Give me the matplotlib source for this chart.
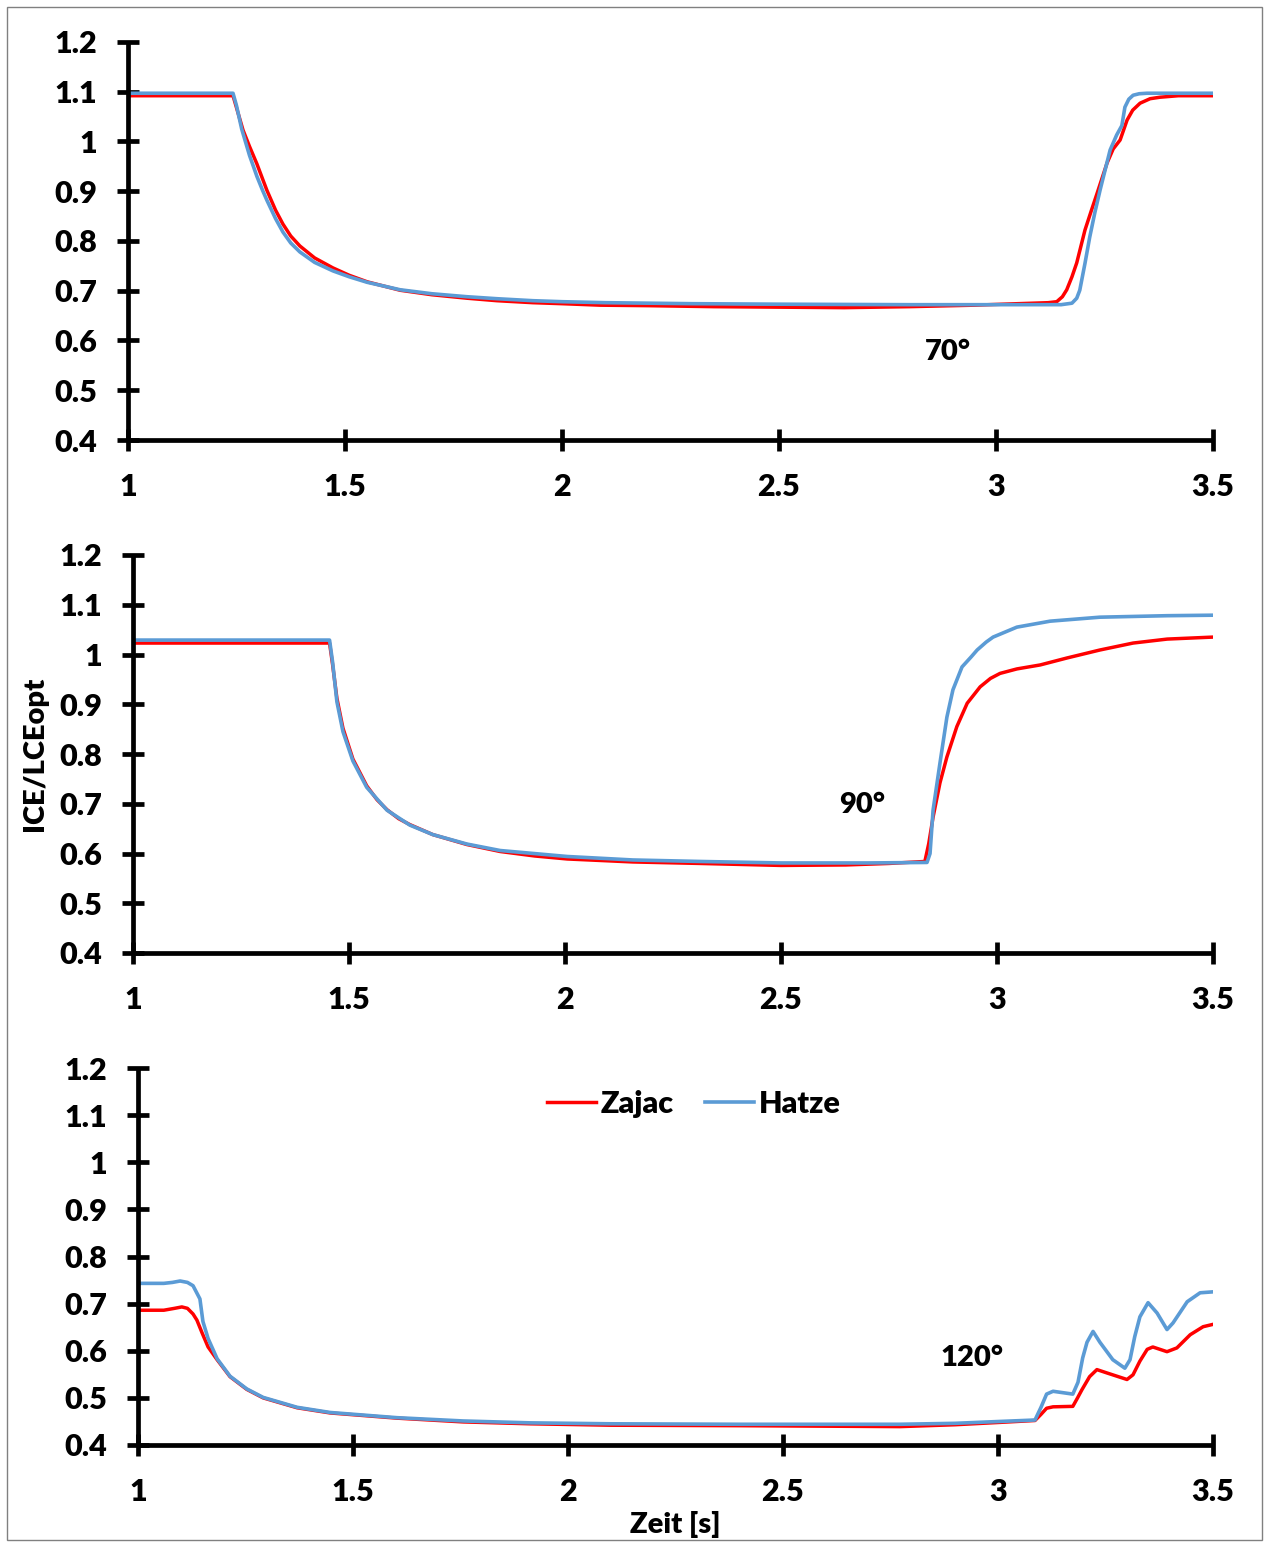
import matplotlib
matplotlib.use("Agg")
import matplotlib.pyplot as plt
from matplotlib.patches import Rectangle

plt.rcParams['font.family'] = ['Lato', 'DejaVu Sans']

# ---- data: muscle fibre length ICE/LCEopt over time for three joint angles ----
# 70 degrees
t70_zajac = [1.0, 1.242, 1.252, 1.265, 1.28, 1.297, 1.31, 1.32, 1.34, 1.357, 1.375, 1.396,
             1.43, 1.472, 1.51, 1.551, 1.627, 1.7, 1.781, 1.85, 1.933, 2.0, 2.088, 2.2, 2.35,
             2.5, 2.65, 2.8, 2.95, 3.05, 3.12, 3.14, 3.153, 3.163, 3.175, 3.186, 3.205, 3.22,
             3.233, 3.256, 3.27, 3.286, 3.302, 3.315, 3.332, 3.355, 3.378, 3.42, 3.5]
zajac70 = [1.092, 1.092, 1.062, 1.023, 0.99, 0.955, 0.925, 0.902, 0.862, 0.834, 0.810, 0.790,
           0.766, 0.746, 0.731, 0.718, 0.701, 0.692, 0.685, 0.680, 0.676, 0.674, 0.671, 0.670,
           0.668, 0.667, 0.666, 0.668, 0.671, 0.674, 0.676, 0.678, 0.688, 0.702, 0.728, 0.756,
           0.822, 0.862, 0.896, 0.957, 0.985, 1.003, 1.043, 1.063, 1.077, 1.086, 1.089, 1.092,
           1.092]
t70_hatze = [1.0, 1.242, 1.25, 1.262, 1.28, 1.297, 1.31, 1.32, 1.34, 1.357, 1.375, 1.396, 1.43,
             1.472, 1.51, 1.551, 1.627, 1.7, 1.781, 1.85, 1.933, 2.0, 2.1, 2.3, 2.5, 2.8,
             3.0, 3.15, 3.175, 3.186, 3.193, 3.205, 3.216, 3.228, 3.24, 3.263, 3.278, 3.29,
             3.297, 3.306, 3.316, 3.33, 3.348, 3.5]
hatze70 = [1.097, 1.097, 1.072, 1.025, 0.972, 0.93, 0.902, 0.882, 0.845, 0.818, 0.796, 0.778,
           0.757, 0.740, 0.728, 0.717, 0.702, 0.694, 0.688, 0.684, 0.680, 0.678, 0.676, 0.674,
           0.673, 0.672, 0.672, 0.672, 0.675, 0.685, 0.701, 0.755, 0.808, 0.858, 0.903, 0.983,
           1.013, 1.032, 1.069, 1.085, 1.093, 1.096, 1.097, 1.097]

# 90 degrees
t90_zajac = [1.0, 1.455, 1.462, 1.472, 1.486, 1.509, 1.541, 1.565, 1.588, 1.615, 1.641, 1.694,
             1.773, 1.85, 1.93, 2.005, 2.157, 2.313, 2.5, 2.65, 2.75, 2.833, 2.842, 2.852,
             2.868, 2.884, 2.907, 2.931, 2.961, 2.985, 3.007, 3.046, 3.1, 3.162, 3.238, 3.315,
             3.394, 3.5]
zajac90 = [1.023, 1.023, 0.98, 0.912, 0.852, 0.790, 0.736, 0.708, 0.688, 0.670, 0.658, 0.638,
           0.618, 0.604, 0.595, 0.589, 0.583, 0.580, 0.576, 0.577, 0.580, 0.584, 0.620, 0.673,
           0.742, 0.794, 0.855, 0.902, 0.935, 0.952, 0.962, 0.971, 0.979, 0.993, 1.009, 1.023,
           1.031, 1.035]
t90_hatze = [1.0, 1.455, 1.462, 1.472, 1.486, 1.509, 1.541, 1.588, 1.641, 1.694, 1.773, 1.85,
             2.005, 2.157, 2.313, 2.5, 2.7, 2.838, 2.845, 2.852, 2.868, 2.884, 2.898, 2.919,
             2.94, 2.954, 2.975, 2.991, 3.046, 3.123, 3.238, 3.394, 3.5]
hatze90 = [1.029, 1.029, 0.985, 0.905, 0.845, 0.786, 0.733, 0.687, 0.657, 0.638, 0.619, 0.606,
           0.594, 0.587, 0.584, 0.581, 0.581, 0.582, 0.60, 0.687, 0.782, 0.874, 0.929, 0.975,
           0.995, 1.009, 1.025, 1.035, 1.055, 1.067, 1.075, 1.078, 1.079]

# 120 degrees
t120_zajac = [1.0, 1.06, 1.085, 1.102, 1.115, 1.128, 1.137, 1.149, 1.163, 1.184, 1.214, 1.253,
              1.291, 1.37, 1.447, 1.602, 1.756, 1.912, 2.1, 2.4, 2.772, 2.9, 3.005, 3.086, 3.1,
              3.113, 3.128, 3.174, 3.185, 3.195, 3.213, 3.23, 3.253, 3.3, 3.314, 3.33, 3.347,
              3.36, 3.393, 3.416, 3.447, 3.477, 3.5]
zajac120 = [0.686, 0.686, 0.690, 0.693, 0.690, 0.678, 0.665, 0.638, 0.608, 0.581, 0.545, 0.518,
            0.500, 0.479, 0.468, 0.457, 0.449, 0.445, 0.442, 0.441, 0.439, 0.443, 0.448, 0.452,
            0.465, 0.478, 0.481, 0.482, 0.500, 0.517, 0.545, 0.560, 0.553, 0.539, 0.549, 0.578,
            0.603, 0.608, 0.598, 0.606, 0.634, 0.651, 0.656]
t120_hatze = [1.0, 1.06, 1.08, 1.098, 1.115, 1.128, 1.144, 1.151, 1.163, 1.184, 1.214, 1.253,
              1.291, 1.37, 1.447, 1.602, 1.756, 1.912, 2.1, 2.4, 2.772, 2.9, 3.005, 3.086, 3.1,
              3.113, 3.128, 3.174, 3.186, 3.197, 3.207, 3.221, 3.237, 3.267, 3.295, 3.307,
              3.318, 3.33, 3.349, 3.37, 3.393, 3.407, 3.44, 3.47, 3.5]
hatze120 = [0.743, 0.743, 0.745, 0.748, 0.745, 0.738, 0.710, 0.662, 0.626, 0.583, 0.546, 0.519,
            0.501, 0.480, 0.469, 0.458, 0.451, 0.447, 0.445, 0.444, 0.444, 0.446, 0.450, 0.453,
            0.48, 0.508, 0.514, 0.508, 0.533, 0.585, 0.618, 0.641, 0.618, 0.581, 0.563, 0.581,
            0.630, 0.672, 0.702, 0.680, 0.645, 0.659, 0.704, 0.723, 0.725]

x_ticks = [1, 1.5, 2, 2.5, 3, 3.5]
x_tick_labels = ["1", "1.5", "2", "2.5", "3", "3.5"]
y_ticks = [0.4, 0.5, 0.6, 0.7, 0.8, 0.9, 1.0, 1.1, 1.2]
y_tick_labels = ["0.4", "0.5", "0.6", "0.7", "0.8", "0.9", "1", "1.1", "1.2"]

series_names = ["Zajac", "Hatze"]
angle_labels = ["70°", "90°", "120°"]
label_pos = [(2.889, 0.577), (2.6875, 0.6975), (2.94, 0.585)]

RED = "#FF0000"
BLUE = "#5B9BD5"
FS_TICK = 22
FS = 21
WEIGHT = "heavy"

W, H = 1265, 1542
fig = plt.figure(figsize=(W / 100, H / 100), dpi=100)

# figure frame
fig.patches.append(Rectangle((7 / W, 2 / H), 1255 / W, 1533 / H, transform=fig.transFigure,
                             fill=False, edgecolor="#808080", linewidth=1.0))

axes_boxes = [
    (128, 1213, 42, 440),
    (133, 1213, 555, 953),
    (138, 1213, 1068, 1445),
]
panels = [
    (t70_zajac, zajac70, t70_hatze, hatze70),
    (t90_zajac, zajac90, t90_hatze, hatze90),
    (t120_zajac, zajac120, t120_hatze, hatze120),
]

axes = []
for (l, r, top, bot), (tz, z, th, h), lab, pos in zip(axes_boxes, panels, angle_labels, label_pos):
    ax = fig.add_axes([l / W, 1 - bot / H, (r - l) / W, (bot - top) / H])
    ax.plot(tz, z, color=RED, lw=2.5, label=series_names[0], solid_joinstyle="round")
    ax.plot(th, h, color=BLUE, lw=2.6, label=series_names[1], solid_joinstyle="round")
    ax.set_xlim(1, 3.5)
    ax.set_ylim(0.4, 1.2)
    ax.set_xticks(x_ticks)
    ax.set_xticklabels(x_tick_labels)
    ax.set_yticks(y_ticks)
    ax.set_yticklabels(y_tick_labels)
    for s in ("top", "right"):
        ax.spines[s].set_visible(False)
    for s in ("left", "bottom"):
        ax.spines[s].set_linewidth(3.4)
        ax.spines[s].set_capstyle("butt")
    ax.tick_params(axis="both", direction="inout", length=15.6, width=3.4,
                   labelsize=FS_TICK, colors="black")
    ax.tick_params(axis="y", pad=14.5)
    ax.tick_params(axis="x", pad=16)
    for tl in ax.get_xticklabels() + ax.get_yticklabels():
        tl.set_fontweight(WEIGHT)
    ax.text(pos[0], pos[1], lab, ha="center", va="center", fontsize=FS, fontweight=WEIGHT)
    axes.append(ax)

leg = axes[2].legend(loc="center", bbox_to_anchor=(0.517, 0.905), ncol=2, frameon=False,
                     handlelength=1.6, handletextpad=0.15, columnspacing=1.05,
                     prop={"weight": WEIGHT, "size": FS_TICK})

fig.text(35 / W, 1 - 754 / H, "ICE/LCEopt", rotation=90, ha="center", va="center",
         fontsize=FS, fontweight=WEIGHT)
fig.text(675 / W, 1 - 1524 / H, "Zeit [s]", ha="center", va="center",
         fontsize=FS, fontweight=WEIGHT)

fig.savefig("out.png", dpi=100)
